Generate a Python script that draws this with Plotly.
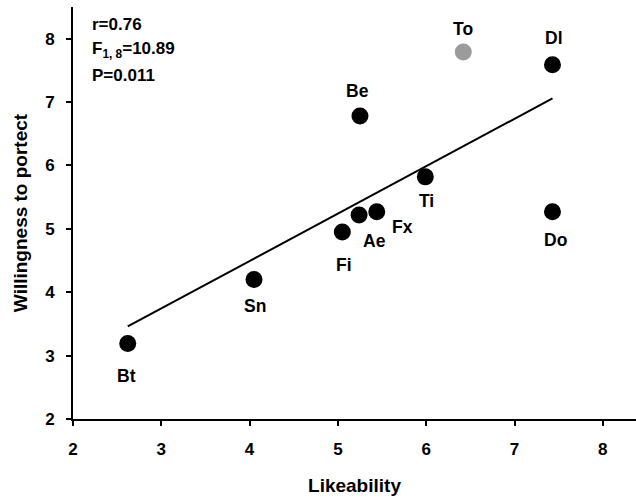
import numpy as np
import plotly.graph_objects as go

# Species scores: likeability vs. willingness to protect
species = ["Bt", "Sn", "Fi", "Ae", "Fx", "Ti", "Be", "To", "Dl", "Do"]
likeability = [2.62, 4.05, 5.05, 5.24, 5.44, 5.99, 5.25, 6.42, 7.43, 7.43]
willingness = [3.19, 4.20, 4.95, 5.22, 5.27, 5.82, 6.78, 7.79, 7.59, 5.27]
point_colors = ["black"] * 7 + ["#9b9b9b"] + ["black"] * 2

x_ticks = [2, 3, 4, 5, 6, 7, 8]
y_ticks = [2, 3, 4, 5, 6, 7, 8]

stats_lines = ["r=0.76", "F<sub>1, 8</sub>=10.89", "P=0.011"]

# pixel offsets of each species label from its point
label_offsets = {
    "Bt": (-1, -32), "Sn": (1, -26), "Fi": (2, -33), "Ae": (15, -26),
    "Fx": (26, -15), "Ti": (1, -24), "Be": (-2, 25), "To": (0, 23),
    "Dl": (2, 27), "Do": (3, -28),
}

FONT = "Liberation Sans, Arial, sans-serif"

fig = go.Figure()

# least-squares regression across all species
slope, intercept = np.polyfit(likeability, willingness, 1)
fit_x = np.array([min(likeability), max(likeability)])
fig.add_trace(go.Scatter(
    x=fit_x, y=slope * fit_x + intercept, mode="lines",
    line=dict(color="black", width=2), hoverinfo="skip", showlegend=False,
))

fig.add_trace(go.Scatter(
    x=likeability, y=willingness, mode="markers",
    marker=dict(size=17, color=point_colors, line=dict(width=0)),
    text=species, showlegend=False,
))

for name, xv, yv in zip(species, likeability, willingness):
    dx, dy = label_offsets[name]
    fig.add_annotation(
        x=xv, y=yv, text=name, showarrow=False, xshift=dx, yshift=dy,
        font=dict(family=FONT, size=17.5, color="black", weight="bold"),
    )

for i, line in enumerate(stats_lines):
    fig.add_annotation(
        xref="paper", yref="paper", x=17 / 563, y=1 - (18 + 25 * i) / 412,
        xanchor="left", yanchor="middle", text=line, showarrow=False,
        font=dict(family=FONT, size=17, color="black", weight="bold"),
    )

axis_common = dict(
    showline=True, linecolor="black", linewidth=2,
    ticks="outside", ticklen=5, tickwidth=2, tickcolor="black",
    showgrid=False, zeroline=False,
    tickfont=dict(family=FONT, size=17, color="black", weight="bold"),
)

fig.update_xaxes(
    range=[2, 8.376], tickvals=x_ticks, ticklabelstandoff=9,
    title=dict(text="Likeability", standoff=20,
               font=dict(family=FONT, size=19, color="black", weight="bold")),
    **axis_common,
)
fig.update_yaxes(
    range=[2, 8.5], tickvals=y_ticks, ticklabelstandoff=8,
    title=dict(text="Willingness to portect", standoff=12,
               font=dict(family=FONT, size=19, color="black", weight="bold")),
    **axis_common,
)

fig.update_layout(
    width=636, height=502,
    margin=dict(l=73, r=0, t=7, b=83),
    plot_bgcolor="white", paper_bgcolor="white",
    showlegend=False,
)

fig.write_html("out.html")
